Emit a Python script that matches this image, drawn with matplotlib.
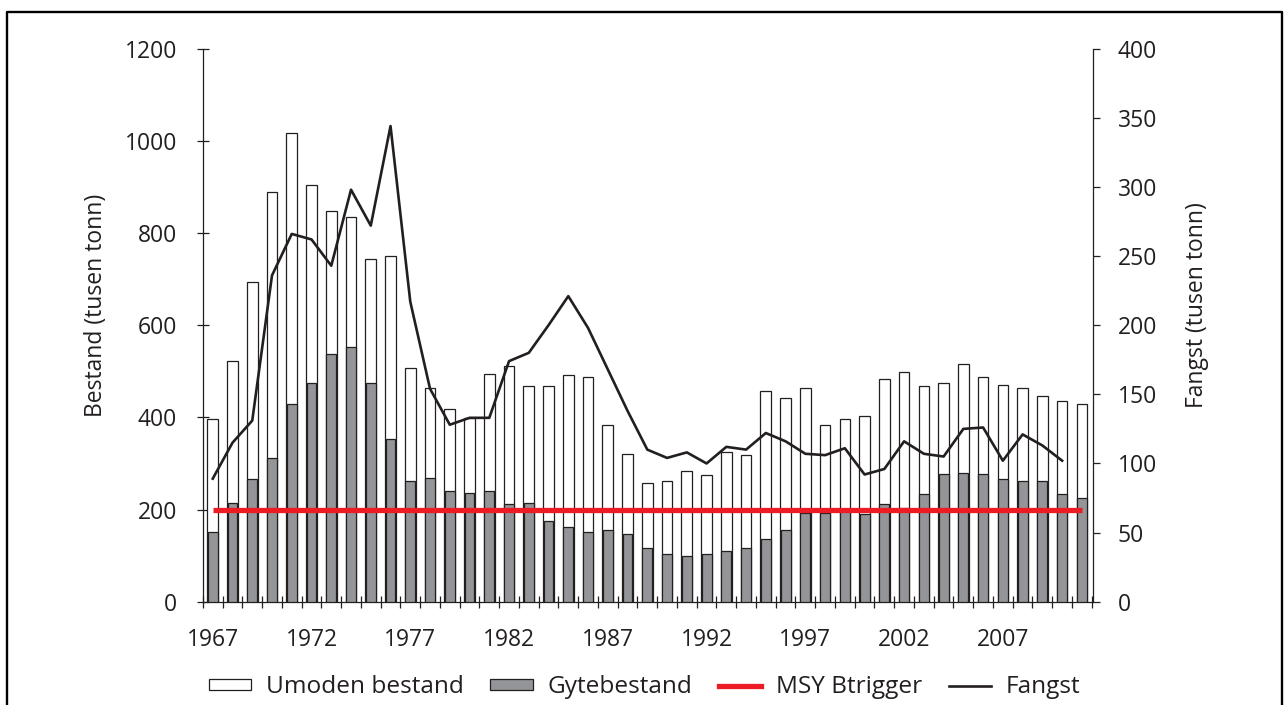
import matplotlib
matplotlib.use('Agg')
import matplotlib.pyplot as plt
from matplotlib.lines import Line2D
from matplotlib.patches import Patch
import numpy as np

years = list(range(1967, 2012))
# total stock (Umoden bestand bar height) and spawning stock, thousand tonnes
totalbestand = [397, 522, 694, 889, 1016, 904, 848, 834, 744, 751,
                508, 463, 418, 398, 495, 512, 467, 467, 491, 487,
                384, 321, 258, 262, 283, 276, 324, 318, 457, 442,
                463, 384, 397, 404, 484, 498, 467, 474, 515, 487,
                470, 463, 446, 436, 428]
gytebestand = [152, 214, 266, 311, 428, 474, 537, 553, 474, 352,
               263, 269, 241, 235, 241, 211, 214, 176, 162, 152,
               155, 148, 117, 104, 100, 104, 111, 117, 135, 155,
               193, 193, 201, 190, 211, 203, 234, 277, 280, 277,
               266, 263, 263, 234, 224]
fangst_years = list(range(1967, 2011))
fangst = [89, 115, 131, 236, 266, 262, 243, 298, 272, 344,
          217, 154, 128, 133, 133, 174, 180, 200, 221, 198,
          168, 138, 110, 104, 108, 100, 112, 110, 122, 116,
          107, 106, 111, 92, 96, 116, 107, 105, 125, 126,
          102, 121, 113, 102]
msy_btrigger = 200

year_labels = list(range(1967, 2008, 5))

plt.rcParams['font.family'] = ['Open Sans', 'DejaVu Sans']
fs = 16.5
dark = '#231f20'

fig = plt.figure(figsize=(12.84, 7.05), dpi=100)
ax = fig.add_axes([0.158, 0.1465, 0.6932, 0.7845])

ax.bar(years, totalbestand, width=0.54, color='white', edgecolor=dark,
       linewidth=0.9, zorder=2)
ax.bar(years, gytebestand, width=0.5, color='#939598', edgecolor=dark,
       linewidth=0.9, zorder=3)
ax.hlines(msy_btrigger, years[0], years[-1], color='#ed1c24', linewidth=3.8,
          zorder=4)

ax.set_xlim(1966.52, 2011.56)
ax.set_ylim(0, 1200)
ax.set_yticks(range(0, 1201, 200))
ax.set_xticks(year_labels)
ax.set_xticks(np.arange(1966.5, 2012, 1), minor=True)
ax.tick_params(axis='x', which='major', length=0, pad=19, labelsize=fs,
               labelcolor=dark)
ax.tick_params(axis='x', which='minor', direction='inout', length=8,
               width=0.9, color=dark)
ax.tick_params(axis='y', direction='inout', length=9, width=0.9, color=dark,
               pad=14, labelsize=fs, labelcolor=dark)
ax.spines['top'].set_visible(False)
ax.spines['right'].set_visible(False)
for s in ('left', 'bottom'):
    ax.spines[s].set_color(dark)
    ax.spines[s].set_linewidth(0.9)
ax.set_ylabel('Bestand (tusen tonn)', fontsize=fs, color=dark, labelpad=12)
ax.yaxis.label.set_y(0.5365)

ax2 = ax.twinx()
ax2.plot(fangst_years, fangst, color=dark, linewidth=1.9, zorder=5)
ax2.set_ylim(0, 400)
ax2.set_yticks(range(0, 401, 50))
ax2.tick_params(axis='y', direction='out', length=5, width=0.9, color=dark,
                pad=13, labelsize=fs, labelcolor=dark)
for s in ('top', 'left', 'bottom'):
    ax2.spines[s].set_visible(False)
ax2.spines['right'].set_color(dark)
ax2.spines['right'].set_linewidth(0.9)
ax2.set_ylabel('Fangst (tusen tonn)', fontsize=fs, color=dark, labelpad=20)
ax2.yaxis.label.set_y(0.5365)

handles = [Patch(facecolor='white', edgecolor=dark, linewidth=0.9),
           Patch(facecolor='#939598', edgecolor=dark, linewidth=0.9),
           Line2D([], [], color='#ed1c24', linewidth=3.8),
           Line2D([], [], color=dark, linewidth=1.9)]
labels = ['Umoden bestand', 'Gytebestand', 'MSY Btrigger', 'Fangst']
fig.legend(handles, labels, loc='center', bbox_to_anchor=(0.502, 0.025),
           ncol=4, frameon=False, fontsize=17.6, handlelength=1.72,
           handleheight=0.33, handletextpad=0.6, columnspacing=1.1,
           labelcolor=dark)

# outer frame (left, top, right)
fig.add_artist(Line2D([0.0058, 0.0058, 0.9985, 0.9985], [-0.01, 0.983, 0.983, -0.01],
                      transform=fig.transFigure, color='black', linewidth=1.7))

fig.savefig('out.png', dpi=100)
